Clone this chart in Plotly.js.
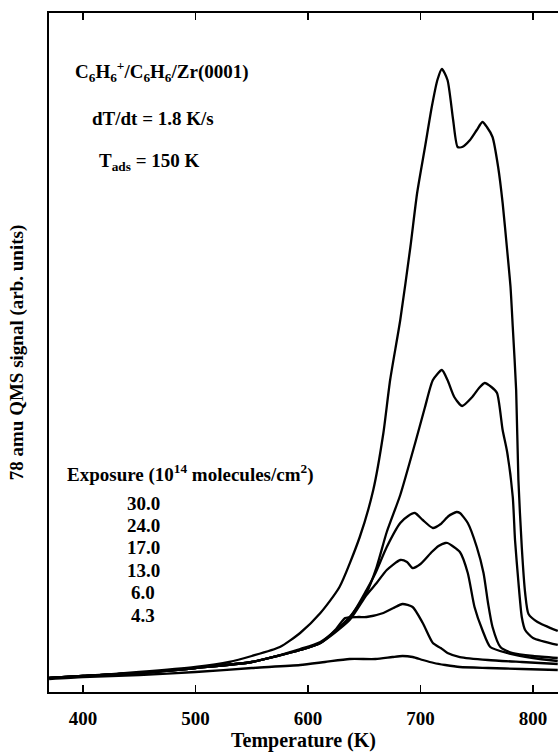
<!DOCTYPE html>
<html>
<head>
<meta charset="utf-8">
<script src="https://cdn.plot.ly/plotly-3.0.1.min.js"></script>
<style>
  html, body { margin: 0; padding: 0; background: #fff; overflow: hidden; }
  #chart { width: 558px; height: 752px; }
</style>
</head>
<body>
<div id="chart"></div>
<script>
// Benzene (78 amu) thermal desorption spectra from Zr(0001), one trace per exposure.
const exposures = ['30.0', '24.0', '17.0', '13.0', '6.0', '4.3'];

const temp30 = [370, 400, 450, 500, 530, 550, 575, 593, 611, 628, 646, 658, 667, 673, 682, 691, 697, 704, 710, 715, 719, 724, 729, 733, 737, 744, 750, 755, 759, 764, 769, 773, 777, 780, 782, 785, 787, 790, 793, 796, 804, 822];
const sig30  = [14, 16, 20, 25, 30, 36, 45, 59, 79, 105, 155, 202, 259, 312, 372, 445, 499, 545, 585, 612, 623, 612, 572, 545, 545, 552, 562, 570, 565, 555, 525, 489, 442, 405, 365, 302, 212, 145, 99, 78, 70, 61];

const temp24 = [370, 400, 450, 500, 550, 593, 611, 637, 652, 661, 670, 682, 695, 704, 711, 719, 724, 730, 737, 746, 752, 757, 763, 768, 773, 777, 782, 784, 787, 790, 793, 800, 822];
const sig24  = [14, 16, 19, 24, 30, 42, 49, 75, 99, 125, 160, 197, 248, 285, 312, 322, 312, 295, 286, 295, 304, 309, 305, 299, 262, 240, 195, 152, 110, 75, 62, 54, 47];

const temp17 = [370, 400, 450, 500, 550, 593, 611, 637, 652, 660, 670, 682, 689, 695, 702, 711, 718, 725, 732, 735, 742, 750, 756, 760, 764, 771, 782, 800, 822];
const sig17  = [14, 16, 19, 24, 30, 43, 50, 74, 102, 119, 145, 169, 176, 179, 172, 164, 168, 176, 180, 179, 169, 145, 119, 89, 65, 45, 39, 36, 34];

const temp13 = [370, 400, 450, 500, 550, 593, 611, 637, 652, 661, 670, 682, 688, 693, 700, 710, 716, 722, 724, 735, 742, 748, 755, 762, 777, 800, 822];
const sig13  = [14, 16, 19, 24, 30, 42, 49, 72, 97, 109, 122, 132, 130, 124, 128, 140, 146, 149, 149, 140, 119, 85, 62, 45, 39, 34, 31];

const temp6 = [370, 400, 450, 500, 550, 593, 611, 625, 633, 645, 652, 667, 676, 684, 693, 702, 711, 718, 724, 735, 760, 790, 822];
const sig6  = [14, 16, 19, 24, 30, 42, 49, 63, 74, 75, 75, 79, 84, 88, 85, 69, 49, 44, 39, 35, 32, 30, 28];

const temp4 = [370, 400, 450, 500, 550, 593, 615, 637, 660, 675, 684, 693, 702, 712, 722, 735, 760, 790, 822];
const sig4  = [13, 15, 17, 20, 24, 27, 30, 33, 33, 35, 36, 35, 32, 29, 27, 25, 24, 23, 22];

const temps = [temp30, temp24, temp17, temp13, temp6, temp4];
const sigs = [sig30, sig24, sig17, sig13, sig6, sig4];

const serif = 'Liberation Serif, Times New Roman, serif';
const boldFont = (size) => ({ family: serif, size: size, color: '#000', weight: 'bold' });

const traces = exposures.map((e, i) => ({
  x: temps[i],
  y: sigs[i],
  name: e,
  type: 'scatter',
  mode: 'lines',
  line: { color: '#000', width: 2.3, shape: 'spline', smoothing: 0.6 },
  hoverinfo: 'skip'
}));

function label(text, px, py, anchor) {
  // px, py are page positions; converted to fractions of the plotting frame
  return {
    text: text,
    xref: 'paper', yref: 'paper',
    x: (px - 49) / 509, y: (692 - py) / 679,
    xanchor: anchor || 'left', yanchor: 'middle',
    showarrow: false,
    font: boldFont(19)
  };
}

const annotations = [
  label('C<sub>6</sub>H<sub>6</sub><sup>+</sup>/C<sub>6</sub>H<sub>6</sub>/Zr(0001)', 73, 71),
  label('dT/dt = 1.8 K/s', 90, 118),
  label('T<sub>ads</sub> = 150 K', 97, 162),
  label('Exposure (10<sup>14</sup> molecules/cm<sup>2</sup>)', 65, 473)
];
exposures.forEach((e, i) => {
  annotations.push(label(e, 143, 503 + i * 22.4, 'center'));
});

const layout = {
  width: 558,
  height: 752,
  margin: { l: 49, r: 0, t: 13, b: 60 },
  paper_bgcolor: '#fff',
  plot_bgcolor: '#fff',
  showlegend: false,
  font: { family: serif, color: '#000', size: 19 },
  xaxis: {
    range: [369.8, 822.2],
    tickvals: [400, 500, 600, 700, 800],
    ticks: 'inside',
    ticklen: 7,
    tickwidth: 1.5,
    tickcolor: '#000',
    ticklabelstandoff: 8,
    showline: true,
    linecolor: '#000',
    linewidth: 2,
    mirror: 'ticks',
    showgrid: false,
    zeroline: false,
    tickfont: boldFont(19),
    title: { text: 'Temperature (K)', font: boldFont(20), standoff: 8 }
  },
  yaxis: {
    range: [0, 679],
    showticklabels: false,
    ticks: '',
    showline: true,
    linecolor: '#000',
    linewidth: 2,
    mirror: false,
    showgrid: false,
    zeroline: false,
    title: { text: '78 amu QMS signal (arb. units)', font: boldFont(19), standoff: 18 }
  },
  annotations: annotations
};

Plotly.newPlot('chart', traces, layout, { staticPlot: true, displayModeBar: false });
</script>
</body>
</html>
